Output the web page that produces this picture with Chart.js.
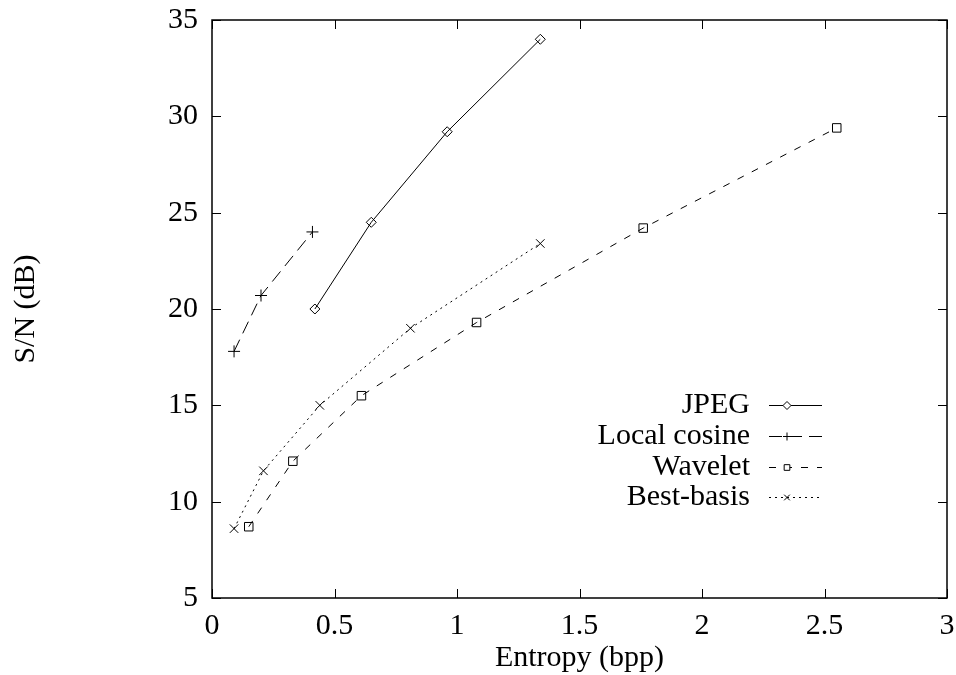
<!DOCTYPE html>
<html>
<head>
<meta charset="utf-8">
<script src="https://cdn.jsdelivr.net/npm/chart.js@4/dist/chart.umd.min.js"></script>
<style>
  html, body { margin: 0; padding: 0; background: #fff; }
  canvas { display: block; }
</style>
</head>
<body>
<canvas id="chart" width="956" height="675"></canvas>
<script>
/* data */
const jpegX = [0.42, 0.65, 0.96, 1.34];
const jpegY = [20, 24.5, 29.2, 34];

const cosineX = [0.09, 0.20, 0.41];
const cosineY = [17.8, 20.7, 24.0];

const waveletX = [0.15, 0.33, 0.61, 1.08, 1.76, 2.55];
const waveletY = [8.7, 12.1, 15.5, 19.3, 24.2, 29.4];

const bestX = [0.09, 0.21, 0.44, 0.81, 1.34];
const bestY = [8.6, 11.6, 15.0, 19.0, 23.4];

const seriesNames = ["JPEG", "Local cosine", "Wavelet", "Best-basis"];
const xTitle = "Entropy (bpp)";
const yTitle = "S/N (dB)";

const FONT = "'Liberation Serif', 'DejaVu Serif', serif";
const FONT_SIZE = 30;

function pts(xs, ys) {
  return xs.map((x, i) => ({ x: x, y: ys[i] }));
}

function series(label, xs, ys, style, dash, radius) {
  return {
    label: label,
    data: pts(xs, ys),
    showLine: true,
    borderColor: "#000",
    backgroundColor: "rgba(0,0,0,0)",
    borderWidth: 1,
    borderDash: dash,
    pointStyle: style,
    pointRadius: radius,
    pointBorderColor: "#000",
    pointBorderWidth: 1,
    pointBackgroundColor: "rgba(0,0,0,0)"
  };
}

const datasets = [
  series(seriesNames[0], jpegX, jpegY, "rectRot", [], 5),
  series(seriesNames[1], cosineX, cosineY, "cross", [13, 7], 6),
  series(seriesNames[2], waveletX, waveletY, "rect", [7, 9], 6),
  series(seriesNames[3], bestX, bestY, "crossRot", [2, 4], 6)
];

// no extra room for the end labels: the frame is fixed
function noPad(s) {
  s.paddingTop = 0;
  s.paddingBottom = 0;
  s.paddingLeft = 0;
  s.paddingRight = 0;
}

/* frame, inward ticks on all sides, axis titles and key */
const gnuplotFrame = {
  id: "gnuplotFrame",
  afterDraw(chart) {
    const ctx = chart.ctx;
    const a = chart.chartArea;
    const xs = chart.scales.x;
    const ys = chart.scales.y;
    const tick = 9;

    ctx.save();
    ctx.strokeStyle = "#000";
    ctx.lineWidth = 1.5;
    ctx.setLineDash([]);
    ctx.strokeRect(a.left, a.top, a.right - a.left, a.bottom - a.top);

    ctx.lineWidth = 1;
    ctx.beginPath();
    xs.ticks.forEach(t => {
      const px = Math.round(xs.getPixelForValue(t.value)) + 0.5;
      ctx.moveTo(px, a.bottom); ctx.lineTo(px, a.bottom - tick);
      ctx.moveTo(px, a.top); ctx.lineTo(px, a.top + tick);
    });
    ys.ticks.forEach(t => {
      const py = Math.round(ys.getPixelForValue(t.value)) + 0.5;
      ctx.moveTo(a.left, py); ctx.lineTo(a.left + tick, py);
      ctx.moveTo(a.right, py); ctx.lineTo(a.right - tick, py);
    });
    ctx.stroke();

    // axis titles
    ctx.fillStyle = "#000";
    ctx.font = FONT_SIZE + "px " + FONT;
    ctx.textAlign = "center";
    ctx.textBaseline = "middle";
    ctx.fillText(xTitle, (a.left + a.right) / 2, 658);
    ctx.save();
    ctx.translate(26, (a.top + a.bottom) / 2);
    ctx.rotate(-Math.PI / 2);
    ctx.fillText(yTitle, 0, 0);
    ctx.restore();

    // key
    const textRight = 750;
    const lineL = 769, lineR = 822, markX = 787;
    const rowY = [405, 436, 467, 497];
    chart.data.datasets.forEach((ds, i) => {
      const y = rowY[i];
      ctx.fillStyle = "#000";
      ctx.textAlign = "right";
      ctx.fillText(ds.label, textRight, y);
      ctx.setLineDash(ds.borderDash);
      ctx.beginPath();
      ctx.moveTo(lineL, y + 0.5);
      ctx.lineTo(lineR, y + 0.5);
      ctx.stroke();
      ctx.setLineDash([]);
      ctx.fillStyle = "#fff";
      Chart.helpers.drawPoint(ctx, {
        pointStyle: ds.pointStyle,
        radius: 4,
        borderWidth: 1
      }, markX, y + 0.5);
    });
    ctx.restore();
  }
};

new Chart(document.getElementById("chart"), {
  type: "scatter",
  data: { datasets: datasets },
  options: {
    responsive: false,
    animation: false,
    layout: { padding: { top: 20, right: 9, left: 0, bottom: 0 } },
    plugins: {
      legend: { display: false },
      tooltip: { enabled: false }
    },
    scales: {
      x: {
        type: "linear",
        min: 0,
        max: 3,
        afterFit(s) { s.height = 77; noPad(s); },
        grid: { display: false, drawTicks: false },
        border: { display: false },
        ticks: {
          stepSize: 0.5,
          padding: 10,
          color: "#000",
          font: { family: FONT, size: FONT_SIZE },
          callback: v => String(v)
        }
      },
      y: {
        type: "linear",
        min: 5,
        max: 35,
        afterFit(s) { s.width = 212; noPad(s); },
        grid: { display: false, drawTicks: false },
        border: { display: false },
        ticks: {
          stepSize: 5,
          padding: 14,
          color: "#000",
          font: { family: FONT, size: FONT_SIZE },
          callback: v => String(v)
        }
      }
    }
  },
  plugins: [gnuplotFrame]
});
</script>
</body>
</html>
